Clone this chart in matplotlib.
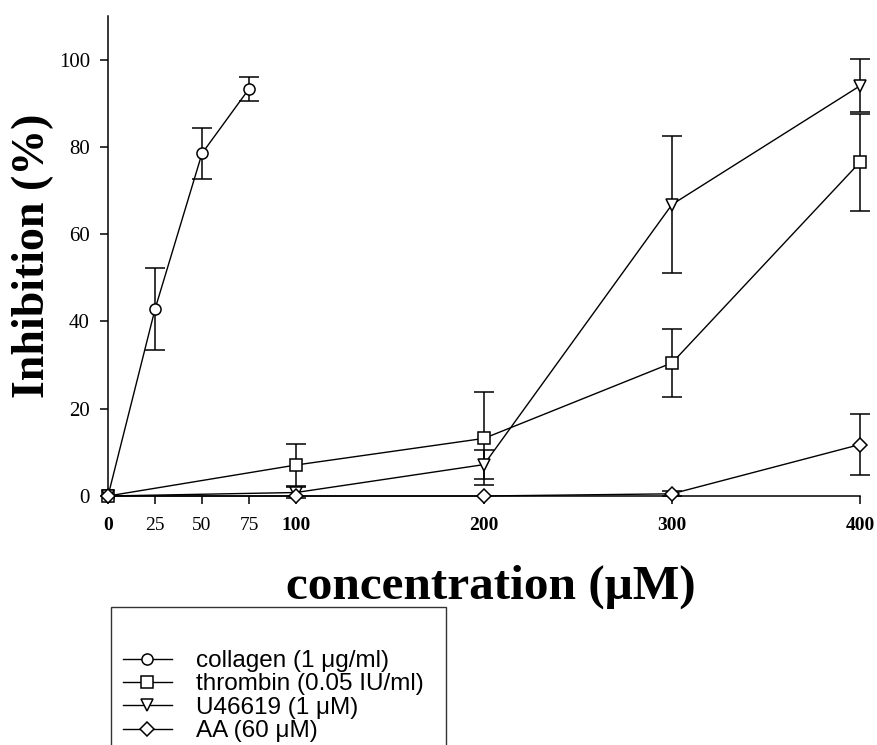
import numpy as np
import matplotlib
matplotlib.use('Agg')
import matplotlib.pyplot as plt
from matplotlib.patches import Rectangle

# data
conc_collagen = np.array([0, 25, 50, 75])
collagen = np.array([0, 42.8, 78.5, 93.3])
collagen_err = np.array([0, 9.4, 5.8, 2.7])

conc = np.array([0, 100, 200, 300, 400])
thrombin = np.array([0, 7.1, 13.2, 30.5, 76.5])
thrombin_err = np.array([0, 4.9, 10.7, 7.8, 11.1])
u46619 = np.array([0, 0.8, 7.2, 66.8, 94.0])
u46619_err = np.array([0, 1.2, 3.4, 15.6, 6.1])
aa = np.array([0, 0, 0, 0.5, 11.8])
aa_err = np.array([0, 0, 0, 0.6, 6.9])

labels = ['collagen (1 \u03bcg/ml)', 'thrombin (0.05 IU/ml)',
          'U46619 (1 \u03bcM)', 'AA (60 \u03bcM)']
xticks = [0, 25, 50, 75, 100, 200, 300, 400]
yticks = [0, 20, 40, 60, 80, 100]

serif = 'Liberation Serif'
sans = 'Liberation Sans'

W, H = 877, 745
fig = plt.figure(figsize=(W / 100, H / 100), dpi=100)
ax = fig.add_axes([108 / W, 1 - 496 / H, 752 / W, 480 / H])

series = [(conc_collagen, collagen, collagen_err, 'o', 8),
          (conc, thrombin, thrombin_err, 's', 8),
          (conc, u46619, u46619_err, 'v', 9),
          (conc, aa, aa_err, 'D', 7.5)]

handles = []
for (x, y, e, m, ms), lab in zip(series, labels):
    keep = e > 0
    ax.errorbar(x[keep], y[keep], yerr=e[keep], fmt='none', ecolor='black',
                elinewidth=1.1, capsize=7.5, capthick=1.1, zorder=2, clip_on=False)
    h, = ax.plot(x, y, color='black', lw=1.0, marker=m, ms=ms,
                 markerfacecolor='white', markeredgecolor='black',
                 markeredgewidth=1.1, zorder=3, clip_on=False, label=lab)
    handles.append(h)

ax.set_xlim(0, 400)
ax.set_ylim(0, 110)
ax.spines['top'].set_visible(False)
ax.spines['right'].set_visible(False)
for s in ['left', 'bottom']:
    ax.spines[s].set_linewidth(1.1)

ax.set_xticks(xticks)
ax.set_xticklabels([str(t) for t in xticks])
ax.set_yticks(yticks)
ax.tick_params(direction='out', length=6, width=1.1, labelsize=14)
ax.tick_params(axis='x', pad=9)
ax.tick_params(axis='y', pad=7, labelsize=15)
for t, lab in zip(xticks, ax.get_xticklabels()):
    lab.set_fontfamily(serif)
    lab.set_fontweight('bold' if t % 100 == 0 else 'normal')
for lab in ax.get_yticklabels():
    lab.set_fontfamily(serif)

ax.set_ylabel('Inhibition (%)', fontsize=33, fontweight='bold', fontfamily=serif)
ax.yaxis.set_label_coords(-0.072, 0.5)
ax.set_xlabel('concentration (\u03bcM)', fontsize=35.5, fontweight='bold', fontfamily=serif)
ax.xaxis.set_label_coords(0.509, -0.143)

# legend box runs off the bottom of the figure
fig.add_artist(Rectangle((111 / W, -0.05), 335 / W, 0.05 + 1 - 607 / H,
                         transform=fig.transFigure, fill=False,
                         edgecolor='#333333', lw=1.0))
fig.legend(handles=handles, loc='upper left',
           bbox_to_anchor=(123 / W, 1 - 650 / H), frameon=False,
           prop={'family': sans, 'size': 17.5}, handlelength=2.0,
           handletextpad=1.0, labelspacing=0.06, borderpad=0,
           borderaxespad=0)

fig.savefig('out.png', dpi=100)
